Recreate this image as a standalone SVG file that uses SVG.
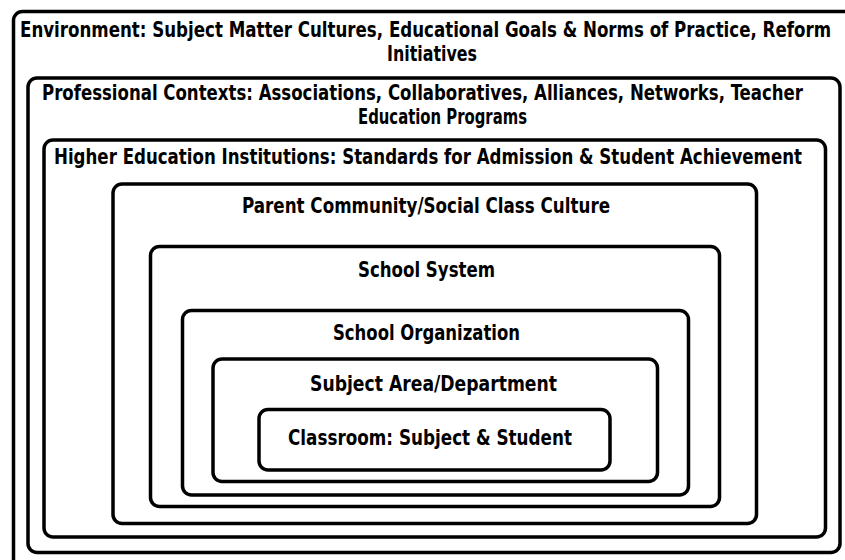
<svg xmlns="http://www.w3.org/2000/svg" width="845" height="560" viewBox="0 0 845 560">
<style>
.box{fill:none;stroke:#000;stroke-width:3.5}
.t{font-family:"DejaVu Sans Condensed","DejaVu Sans","Liberation Sans",sans-serif;font-weight:bold;font-size:22px;fill:#000}
</style>
<rect x="0" y="0" width="845" height="560" fill="#fff"/>
<g id="environment">
<rect class="box" x="13.5" y="11.5" width="840" height="557" rx="9"/>
<text class="t" x="20" y="37" textLength="811" lengthAdjust="spacingAndGlyphs">Environment: Subject Matter Cultures, Educational Goals &amp; Norms of Practice, Reform</text>
<text class="t" x="387" y="61" textLength="90" lengthAdjust="spacingAndGlyphs">Initiatives</text>
</g>
<g id="professional">
<rect class="box" x="28" y="78" width="812" height="474.5" rx="9"/>
<text class="t" x="42" y="100" textLength="761" lengthAdjust="spacingAndGlyphs">Professional Contexts: Associations, Collaboratives, Alliances, Networks, Teacher</text>
<text class="t" x="358" y="124" textLength="169" lengthAdjust="spacingAndGlyphs">Education Programs</text>
</g>
<g id="higher-ed">
<rect class="box" x="44" y="140" width="781.5" height="397" rx="9"/>
<text class="t" x="54" y="164" textLength="748" lengthAdjust="spacingAndGlyphs">Higher Education Institutions: Standards for Admission &amp; Student Achievement</text>
</g>
<g id="parent">
<rect class="box" x="113" y="184" width="643.5" height="339.5" rx="9"/>
<text class="t" x="242" y="213" textLength="368" lengthAdjust="spacingAndGlyphs">Parent Community/Social Class Culture</text>
</g>
<g id="school-system">
<rect class="box" x="150.5" y="246.5" width="569" height="260" rx="9"/>
<text class="t" x="358" y="277" textLength="137" lengthAdjust="spacingAndGlyphs">School System</text>
</g>
<g id="school-org">
<rect class="box" x="182.5" y="310.5" width="506" height="184.5" rx="9"/>
<text class="t" x="333" y="340" textLength="187" lengthAdjust="spacingAndGlyphs">School Organization</text>
</g>
<g id="subject-area">
<rect class="box" x="213" y="359" width="444.5" height="122.5" rx="9"/>
<text class="t" x="310" y="391" textLength="247" lengthAdjust="spacingAndGlyphs">Subject Area/Department</text>
</g>
<g id="classroom">
<rect class="box" x="259" y="409.5" width="351" height="60.5" rx="9"/>
<text class="t" x="288" y="445" textLength="284" lengthAdjust="spacingAndGlyphs">Classroom: Subject &amp; Student</text>
</g>
<g id="connectors"></g>
</svg>
